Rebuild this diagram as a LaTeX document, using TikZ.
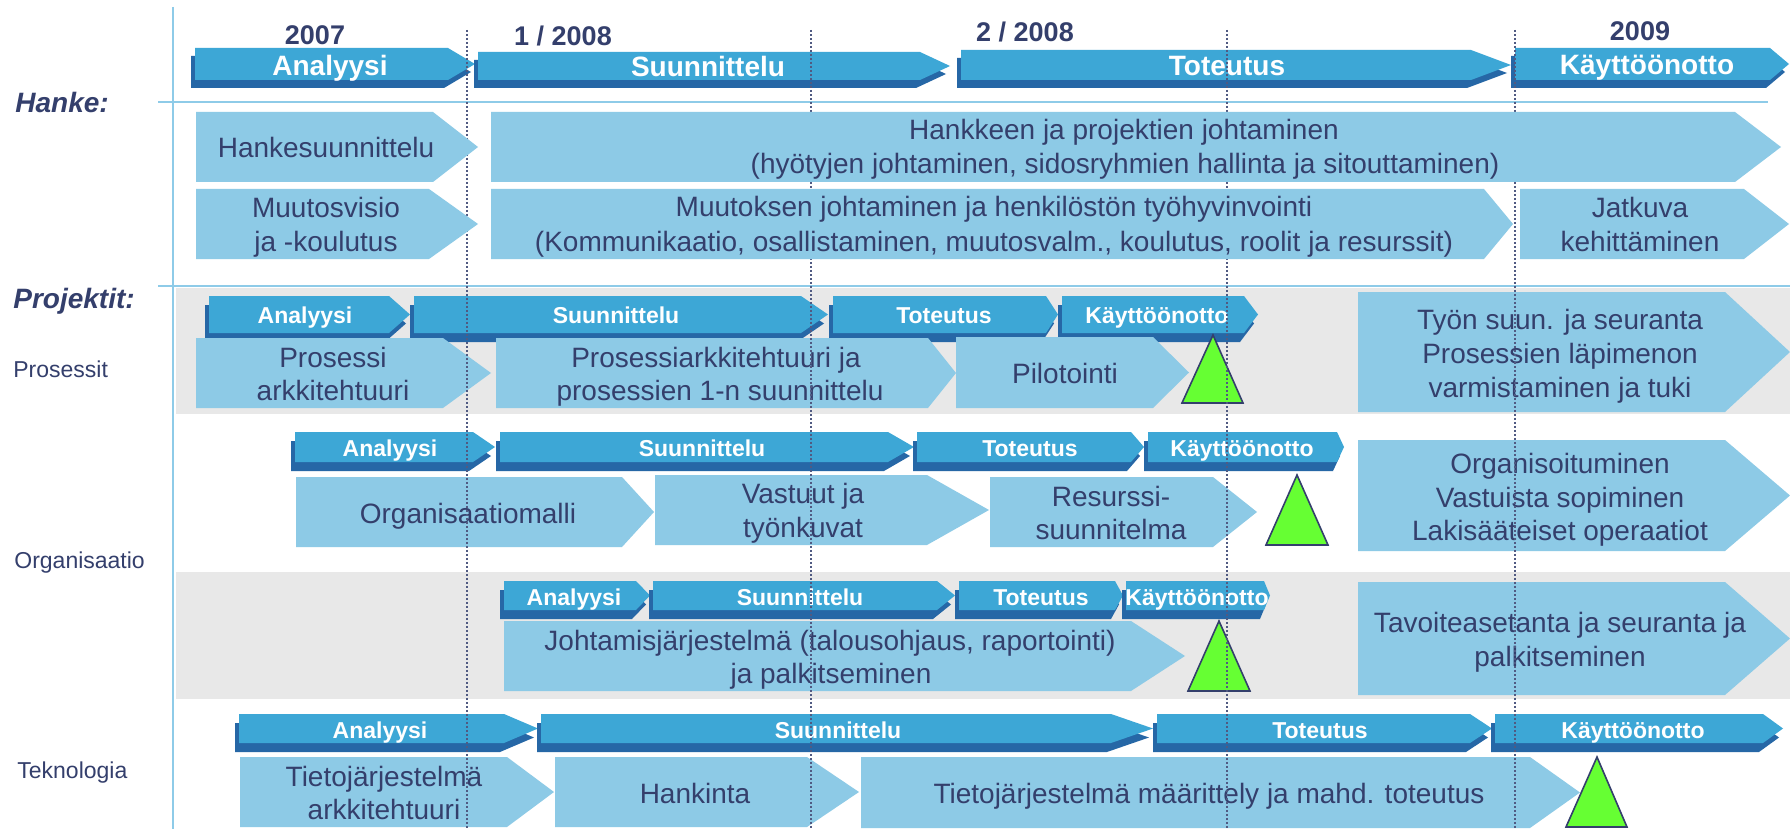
\documentclass[tikz,border=0pt]{standalone}
\usepackage{fontspec}
\setmainfont{Liberation Sans}
\definecolor{barblue}{HTML}{3DA7D6}
\definecolor{shadowblue}{HTML}{2667A6}
\definecolor{boxblue}{HTML}{8DCAE6}
\definecolor{navy}{HTML}{343F6C}
\definecolor{bandgray}{HTML}{E8E8E8}
\definecolor{lineblue}{HTML}{8ECBE8}
\definecolor{dotcol}{HTML}{505A82}
\definecolor{trigreen}{HTML}{66FF33}
\def\shy{8}
\newcommand\phbar[9]{%
  \fill[shadowblue] ({#2-4},{#3+\shy}) -- ({#5-4},{#3+\shy}) -- ({#6-4},{(#3+#4)/2+\shy}) -- ({#5-4},{#4+\shy}) -- ({#2-4},{#4+\shy}) -- cycle;
  \fill[barblue] (#2,#3) -- (#5,#3) -- (#6,{(#3+#4)/2}) -- (#5,#4) -- (#2,#4) -- cycle;
  \node[curbar] (#1) at (#7,#8) {#9};
}
\newcommand\chevbox[5]{%
  \fill[boxblue] (#1,#2) -- (#4,#2) -- (#5,{(#2+#3)/2}) -- (#4,#3) -- (#1,#3) -- cycle;
}
\newcommand\txtline[4]{\node[boxtxt] (#1) at (#2,#3) {#4};}
\newcommand\milestone[7]{%
  \coordinate (#1a) at (#2,#3);
  \coordinate (#1b) at (#4,#5);
  \coordinate (#1c) at (#6,#7);
  \draw[tri] (#1a) -- (#1b) -- (#1c) -- cycle;
}
\begin{document}
\begin{tikzpicture}[x=0.5pt,y=-0.5pt,
  bartxt/.style={font=\bfseries\fontsize{14}{16}\selectfont, text=white, inner sep=0pt, anchor=base},
  pbartxt/.style={font=\bfseries\fontsize{11.5}{13}\selectfont, text=white, inner sep=0pt, anchor=base},
  curbar/.style={bartxt},
  boxtxt/.style={font=\fontsize{14}{17}\selectfont, text=navy, inner sep=0pt, anchor=base},
  lbl/.style={font=\fontsize{11.5}{13}\selectfont, text=navy, inner sep=0pt, anchor=base west},
  hlbl/.style={font=\bfseries\itshape\fontsize{14}{16}\selectfont, text=navy, inner sep=0pt, anchor=base west},
  yr/.style={font=\bfseries\fontsize{13.5}{15}\selectfont, text=navy, inner sep=0pt, anchor=base},
  solidline/.style={draw=lineblue, line width=0.75pt},
  dotline/.style={draw=dotcol, line width=0.6pt, dash pattern=on 0.8pt off 1.2pt},
  tri/.style={fill=trigreen, draw=navy, line width=0.8pt, line join=miter}
]
\useasboundingbox (0,0) rectangle (1790,829);
\fill[white] (0,0) rectangle (1790,829);

% gray bands
\fill[bandgray] (176,288) rectangle (1790,414);
\fill[bandgray] (176,572) rectangle (1790,699);

% solid lines
\coordinate (vtop) at (173,7);
\coordinate (vbot) at (173,829);
\draw[solidline] (vtop) -- (vbot);
\coordinate (h1l) at (158,102);
\coordinate (h1r) at (1768,102);
\draw[solidline] (h1l) -- (h1r);
\coordinate (h2l) at (158,286);
\coordinate (h2r) at (1790,286);
\draw[solidline] (h2l) -- (h2r);

% top phase bars
\phbar{tA}{195}{48}{80}{448}{475}{330}{76}{Analyysi}
\phbar{tS}{478}{52}{80}{920}{950}{708}{77}{Suunnittelu}
\phbar{tT}{961}{50}{80}{1471}{1511}{1227}{76}{Toteutus}
\phbar{tK}{1515}{48}{80}{1770}{1789}{1647}{75}{Käyttöönotto}

% years
\node[yr] (y1) at (315,45) {2007};
\node[yr] (y2) at (563,46) {1 / 2008};
\node[yr] (y3) at (1025,42) {2 / 2008};
\node[yr] (y4) at (1640,41) {2009};

% project phase bars
\def\shy{9}
\tikzset{curbar/.style={pbartxt}}
\phbar{pA}{209}{296}{333}{389}{410}{305}{323}{Analyysi}
\phbar{pS}{414}{296}{333}{801}{828}{616}{323}{Suunnittelu}
\phbar{pT}{833}{296}{333}{1046}{1058}{944}{323}{Toteutus}
\phbar{pK}{1062}{296}{333}{1244}{1258}{1157}{323}{Käyttöönotto}

\phbar{oA}{295}{432}{462}{473}{495}{390}{456}{Analyysi}
\phbar{oS}{500}{432}{462}{888}{914}{702}{456}{Suunnittelu}
\phbar{oT}{917}{432}{462}{1131}{1144}{1030}{456}{Toteutus}
\phbar{oK}{1148}{432}{462}{1337}{1344}{1242}{456}{Käyttöönotto}

\phbar{jA}{504}{581}{610}{636}{650}{574}{605}{Analyysi}
\phbar{jS}{653}{581}{610}{937}{955}{800}{605}{Suunnittelu}
\phbar{jT}{959}{581}{610}{1115}{1123}{1041}{605}{Toteutus}
\phbar{jK}{1126}{581}{610}{1264}{1270}{1197}{605}{Käyttöönotto}

\phbar{kA}{239}{714}{743}{504}{538}{380}{738}{Analyysi}
\phbar{kS}{541}{714}{743}{1111}{1153}{838}{738}{Suunnittelu}
\phbar{kT}{1157}{714}{743}{1470}{1492}{1320}{738}{Toteutus}
\phbar{kK}{1495}{714}{743}{1763}{1783}{1633}{738}{Käyttöönotto}

% Prosessit boxes
\chevbox{196}{338}{408}{443}{491}
\txtline{p1a}{333}{367}{Prosessi}
\txtline{p1b}{333}{400}{arkkitehtuuri}
\chevbox{496}{338}{408}{928}{956}
\txtline{p2a}{716}{367}{Prosessiarkkitehtuuri ja}
\txtline{p2b}{720}{400}{prosessien 1-n suunnittelu}
\chevbox{956}{337}{408}{1153}{1189}
\txtline{p3}{1065}{383}{Pilotointi}
\milestone{mp}{1213}{335}{1182}{403}{1243}{403}
\chevbox{1358}{292}{412}{1725}{1790}
\txtline{p4a}{1560}{329}{Työn suun. ja seuranta}
\txtline{p4b}{1560}{363}{Prosessien läpimenon}
\txtline{p4c}{1560}{397}{varmistaminen ja tuki}

% Organisaatio boxes
\chevbox{296}{477}{547}{622}{654}
\txtline{o1}{468}{523}{Organisaatiomalli}
\chevbox{655}{475}{545}{927}{989}
\txtline{o2a}{803}{503}{Vastuut ja}
\txtline{o2b}{803}{537}{työnkuvat}
\chevbox{990}{477}{547}{1213}{1257}
\txtline{o3a}{1111}{506}{Resurssi-}
\txtline{o3b}{1111}{539}{suunnitelma}
\milestone{mo}{1297}{475}{1266}{545}{1328}{545}
\chevbox{1358}{440}{551}{1725}{1790}
\txtline{o4a}{1560}{473}{Organisoituminen}
\txtline{o4b}{1560}{507}{Vastuista sopiminen}
\txtline{o4c}{1560}{540}{Lakisääteiset operaatiot}

% Johtamis boxes
\chevbox{504}{621}{691}{1131}{1185}
\txtline{j1a}{830}{650}{Johtamisjärjestelmä (talousohjaus, raportointi)}
\txtline{j1b}{831}{683}{ja palkitseminen}
\milestone{mj}{1219}{621}{1188}{691}{1250}{691}
\chevbox{1358}{582}{695}{1725}{1790}
\txtline{j2a}{1560}{632}{Tavoiteasetanta ja seuranta ja}
\txtline{j2b}{1560}{666}{palkitseminen}

% Teknologia boxes
\chevbox{240}{757}{827}{507}{554}
\txtline{k1a}{384}{786}{Tietojärjestelmä}
\txtline{k1b}{384}{819}{arkkitehtuuri}
\chevbox{555}{757}{827}{807}{859}
\txtline{k2}{695}{803}{Hankinta}
\chevbox{861}{757}{828}{1530}{1580}
\txtline{k3}{1209}{803}{Tietojärjestelmä määrittely ja mahd. toteutus}
\milestone{mk}{1597}{757}{1566}{827}{1627}{827}

% dotted time lines
\foreach \x in {467,811,1227,1515} {
  \coordinate (d\x t) at (\x,30);
  \coordinate (d\x b) at (\x,829);
  \draw[dotline] (d\x t) -- (d\x b);
}

% Hanke boxes
\chevbox{196}{112}{182}{433}{478}
\txtline{h1}{326}{158}{Hankesuunnittelu}
\chevbox{196}{189}{259}{429}{478}
\txtline{h2a}{326}{218}{Muutosvisio}
\txtline{h2b}{326}{251}{ja -koulutus}
\chevbox{491}{112}{182}{1735}{1781}
\txtline{h3a}{1124}{140}{Hankkeen ja projektien johtaminen}
\txtline{h3b}{1125}{174}{(hyötyjen johtaminen, sidosryhmien hallinta ja sitouttaminen)}
\chevbox{491}{189}{259}{1484}{1513}
\txtline{h4a}{994}{217}{Muutoksen johtaminen ja henkilöstön työhyvinvointi}
\txtline{h4b}{994}{251}{(Kommunikaatio, osallistaminen, muutosvalm., koulutus, roolit ja resurssit)}
\chevbox{1520}{189}{259}{1744}{1789}
\txtline{h5a}{1640}{218}{Jatkuva}
\txtline{h5b}{1640}{251}{kehittäminen}

% row labels
\node[hlbl] (hanke) at (15,113) {Hanke:};
\node[hlbl] (proj) at (13,308) {Projektit:};
\node[lbl] (pros) at (13,377) {Prosessit};
\node[lbl] (orgl) at (14,568) {Organisaatio};
\node[lbl] (tekl) at (17,778) {Teknologia};
\end{tikzpicture}
\end{document}
